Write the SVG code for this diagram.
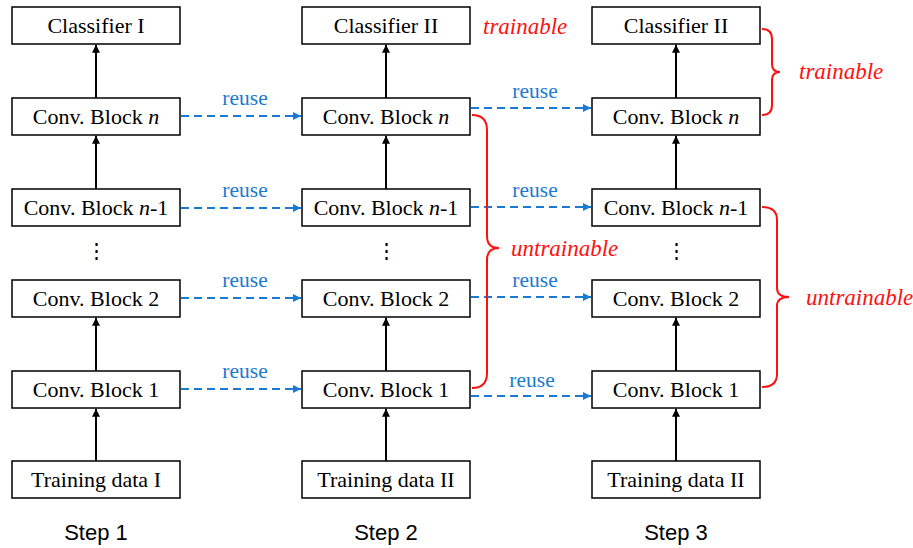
<svg xmlns="http://www.w3.org/2000/svg" width="913" height="548" viewBox="0 0 913 548">
  <style>
    .box { fill: #fff; stroke: #000; stroke-width: 1.5; }
    .lbl { font-family: "Liberation Serif", "Times New Roman", serif; font-size: 22px; fill: #000; text-anchor: middle; }
    .step { font-family: "Liberation Sans", Arial, sans-serif; font-size: 22px; fill: #000; text-anchor: middle; }
    .reuse { font-family: "Liberation Serif", "Times New Roman", serif; font-size: 21.5px; fill: #1a7ad0; text-anchor: middle; }
    .red { font-family: "Liberation Serif", "Times New Roman", serif; font-size: 23px; font-style: italic; fill: #ff1010; }
    .up { stroke: #000; stroke-width: 2; fill: none; marker-end: url(#ah); }
    .dash { stroke: #1a7ad0; stroke-width: 2; stroke-dasharray: 8 5; fill: none; marker-end: url(#bh); }
    .brace { stroke: #ff1010; stroke-width: 2; fill: none; }
    .dots { font-family: "DejaVu Serif", serif; font-size: 21px; fill: #000; text-anchor: middle; }
  </style>
  <defs>
    <marker id="ah" viewBox="0 0 10 10" refX="10" refY="5" markerWidth="4" markerHeight="4" orient="auto" markerUnits="strokeWidth">
      <path d="M0,0 L10,5 L0,10 z" fill="#000"/>
    </marker>
    <marker id="bh" viewBox="0 0 10 10" refX="10" refY="5" markerWidth="4" markerHeight="4" orient="auto" markerUnits="strokeWidth">
      <path d="M0,0 L10,5 L0,10 z" fill="#1a7ad0"/>
    </marker>
  </defs>
  <rect width="913" height="548" fill="#fff"/>

  <!-- Step 1 column -->
  <g id="s1-classifier"><rect class="box" x="12" y="7" width="168" height="37"/><text class="lbl" x="96" y="33">Classifier I</text></g>
  <g id="s1-block-n"><rect class="box" x="12" y="98" width="168" height="37"/><text class="lbl" x="96" y="124">Conv. Block <tspan font-style="italic">n</tspan></text></g>
  <g id="s1-block-n1"><rect class="box" x="12" y="189" width="168" height="37"/><text class="lbl" x="96" y="215">Conv. Block <tspan font-style="italic">n</tspan>-1</text></g>
  <g id="s1-dots"><text class="dots" x="96" y="258">⋮</text></g>
  <g id="s1-block-2"><rect class="box" x="12" y="280" width="168" height="37"/><text class="lbl" x="96" y="306">Conv. Block 2</text></g>
  <g id="s1-block-1"><rect class="box" x="12" y="371" width="168" height="37"/><text class="lbl" x="96" y="397">Conv. Block 1</text></g>
  <g id="s1-data"><rect class="box" x="12" y="461" width="168" height="37"/><text class="lbl" x="96" y="487">Training data I</text></g>

  <!-- Step 2 column -->
  <g id="s2-classifier"><rect class="box" x="302" y="7" width="168" height="37"/><text class="lbl" x="386" y="33">Classifier II</text></g>
  <g id="s2-block-n"><rect class="box" x="302" y="98" width="168" height="37"/><text class="lbl" x="386" y="124">Conv. Block <tspan font-style="italic">n</tspan></text></g>
  <g id="s2-block-n1"><rect class="box" x="302" y="189" width="168" height="37"/><text class="lbl" x="386" y="215">Conv. Block <tspan font-style="italic">n</tspan>-1</text></g>
  <g id="s2-dots"><text class="dots" x="386" y="258">⋮</text></g>
  <g id="s2-block-2"><rect class="box" x="302" y="280" width="168" height="37"/><text class="lbl" x="386" y="306">Conv. Block 2</text></g>
  <g id="s2-block-1"><rect class="box" x="302" y="371" width="168" height="37"/><text class="lbl" x="386" y="397">Conv. Block 1</text></g>
  <g id="s2-data"><rect class="box" x="302" y="461" width="168" height="37"/><text class="lbl" x="386" y="487">Training data II</text></g>

  <!-- Step 3 column -->
  <g id="s3-classifier"><rect class="box" x="592" y="7" width="168" height="37"/><text class="lbl" x="676" y="33">Classifier II</text></g>
  <g id="s3-block-n"><rect class="box" x="592" y="98" width="168" height="37"/><text class="lbl" x="676" y="124">Conv. Block <tspan font-style="italic">n</tspan></text></g>
  <g id="s3-block-n1"><rect class="box" x="592" y="189" width="168" height="37"/><text class="lbl" x="676" y="215">Conv. Block <tspan font-style="italic">n</tspan>-1</text></g>
  <g id="s3-dots"><text class="dots" x="676" y="258">⋮</text></g>
  <g id="s3-block-2"><rect class="box" x="592" y="280" width="168" height="37"/><text class="lbl" x="676" y="306">Conv. Block 2</text></g>
  <g id="s3-block-1"><rect class="box" x="592" y="371" width="168" height="37"/><text class="lbl" x="676" y="397">Conv. Block 1</text></g>
  <g id="s3-data"><rect class="box" x="592" y="461" width="168" height="37"/><text class="lbl" x="676" y="487">Training data II</text></g>

  <!-- Connectors -->
  <g id="connectors">
    <!-- upward flow inside each column -->
    <path class="up" d="M96,98 V44.8"/>
    <path class="up" d="M96,189 V135.8"/>
    <path class="up" d="M96,371 V317.8"/>
    <path class="up" d="M96,461 V408.8"/>
    <path class="up" d="M386,98 V44.8"/>
    <path class="up" d="M386,189 V135.8"/>
    <path class="up" d="M386,371 V317.8"/>
    <path class="up" d="M386,461 V408.8"/>
    <path class="up" d="M676,98 V44.8"/>
    <path class="up" d="M676,189 V135.8"/>
    <path class="up" d="M676,371 V317.8"/>
    <path class="up" d="M676,461 V408.8"/>

    <!-- reuse: step 1 to step 2 -->
    <path class="dash" d="M181,116 H301"/>
    <path class="dash" d="M181,208 H301"/>
    <path class="dash" d="M181,298 H301"/>
    <path class="dash" d="M181,389 H301"/>
    <!-- reuse: step 2 to step 3 -->
    <path class="dash" d="M471,108 H591"/>
    <path class="dash" d="M471,207 H591"/>
    <path class="dash" d="M471,297 H591"/>
    <path class="dash" d="M471,396 H591"/>
  </g>

  <g id="reuse-labels">
    <text class="reuse" x="245" y="105">reuse</text>
    <text class="reuse" x="245" y="197">reuse</text>
    <text class="reuse" x="245" y="287">reuse</text>
    <text class="reuse" x="245" y="378">reuse</text>
    <text class="reuse" x="535" y="98">reuse</text>
    <text class="reuse" x="535" y="197">reuse</text>
    <text class="reuse" x="535" y="287">reuse</text>
    <text class="reuse" x="532" y="387">reuse</text>
  </g>

  <!-- Braces and annotations -->
  <g id="s2-braces">
    <path class="brace" d="M472,115 Q487,115 487,130 L487,236 Q487,248 499,248 Q487,248 487,260 L487,373 Q487,388 472,388"/>
    <text class="red" x="511" y="256">untrainable</text>
    <text class="red" x="483" y="34">trainable</text>
  </g>
  <g id="s3-braces">
    <path class="brace" d="M762,29 Q772,29 772,39 L772,64 Q772,72 780,72 Q772,72 772,80 L772,105 Q772,115 762,115"/>
    <text class="red" x="799" y="79">trainable</text>
    <path class="brace" d="M762,207 Q777,207 777,220 L777,288 Q777,297 789,297 Q777,297 777,306 L777,374 Q777,387 762,387"/>
    <text class="red" x="806" y="305">untrainable</text>
  </g>

  <g id="steps">
    <text class="step" x="96" y="540">Step 1</text>
    <text class="step" x="386" y="540">Step 2</text>
    <text class="step" x="676" y="540">Step 3</text>
  </g>
</svg>
